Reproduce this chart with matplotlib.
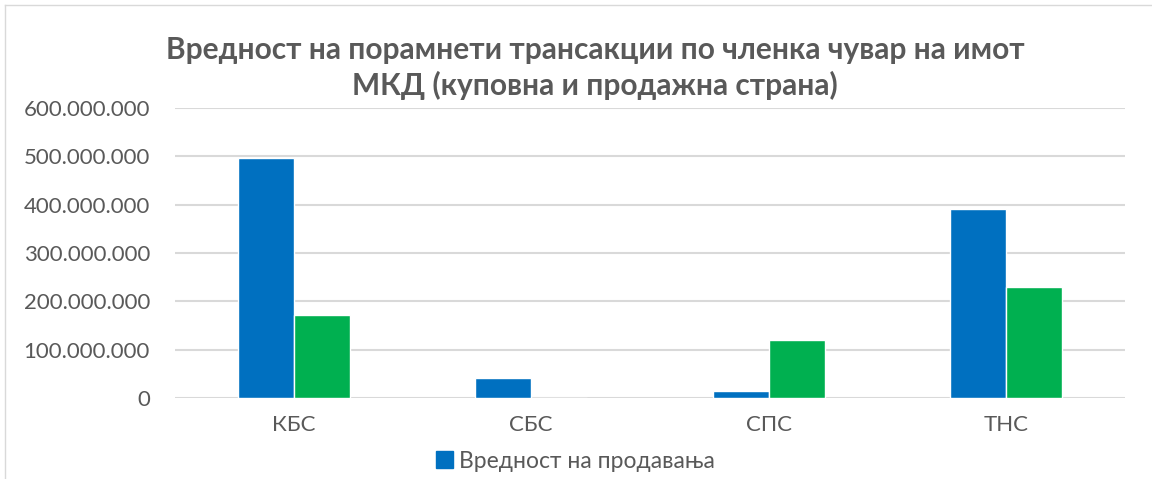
import matplotlib.pyplot as plt
import matplotlib.patches as mpatches
from matplotlib.lines import Line2D
from matplotlib.ticker import FuncFormatter
import numpy as np

categories = ["КБС", "СБС", "СПС", "ТНС"]
sales = [497_000_000, 41_000_000, 14_000_000, 392_000_000]
purchases = [171_000_000, 0, 121_000_000, 229_000_000]
title = "Вредност на порамнети трансакции по членка чувар на имот\nМКД (куповна и продажна страна)"

BLUE = "#0070C0"
GREEN = "#00B050"
TEXT = "#595959"

plt.rcParams["font.family"] = ["Lato", "DejaVu Sans"]

fig = plt.figure(figsize=(11.52, 4.79), dpi=100)
ax = fig.add_axes([175 / 1152, 1 - 398 / 479, 950 / 1152, 290 / 479])

x = np.arange(len(categories))
w = 0.236
ax.bar(x - w / 2, sales, width=w, color=BLUE, edgecolor="white", linewidth=1, zorder=3)
ax.bar(x + w / 2, purchases, width=w, color=GREEN, edgecolor="white", linewidth=1, zorder=3)

ax.set_xlim(-0.5, len(categories) - 0.5)
ax.set_ylim(0, 600_000_000)
ax.set_yticks(np.arange(0, 600_000_001, 100_000_000))
ax.yaxis.set_major_formatter(FuncFormatter(lambda v, p: f"{int(v):,}".replace(",", ".")))
ax.grid(axis="y", color="#D9D9D9", linewidth=1.5, zorder=0)
for s in ax.spines.values():
    s.set_visible(False)
ax.tick_params(axis="both", length=0, labelsize=16, labelcolor=TEXT)
ax.tick_params(axis="y", pad=18)
ax.tick_params(axis="x", pad=12)
ax.set_xticks(x)
ax.set_xticklabels(categories)

fig.text(595 / 1152, 1 - 68 / 479, title, ha="center", va="center",
         fontsize=21.5, fontweight="bold", color=TEXT, linespacing=1.3)

handle = mpatches.Patch(color=BLUE)
fig.legend([handle], ["Вредност на продавања"], loc="center",
           bbox_to_anchor=(575 / 1152, 1 - 461 / 479), frameon=False,
           fontsize=16.5, labelcolor=TEXT, handlelength=0.75, handleheight=0.75,
           handletextpad=0.25)

# chart area border (top and left edges visible)
fig.add_artist(Line2D([5 / 1152, 1], [1 - 5 / 479, 1 - 5 / 479], color="#D9D9D9", linewidth=1))
fig.add_artist(Line2D([5 / 1152, 5 / 1152], [0, 1 - 5 / 479], color="#D9D9D9", linewidth=1))

plt.savefig("out.png", dpi=100)
